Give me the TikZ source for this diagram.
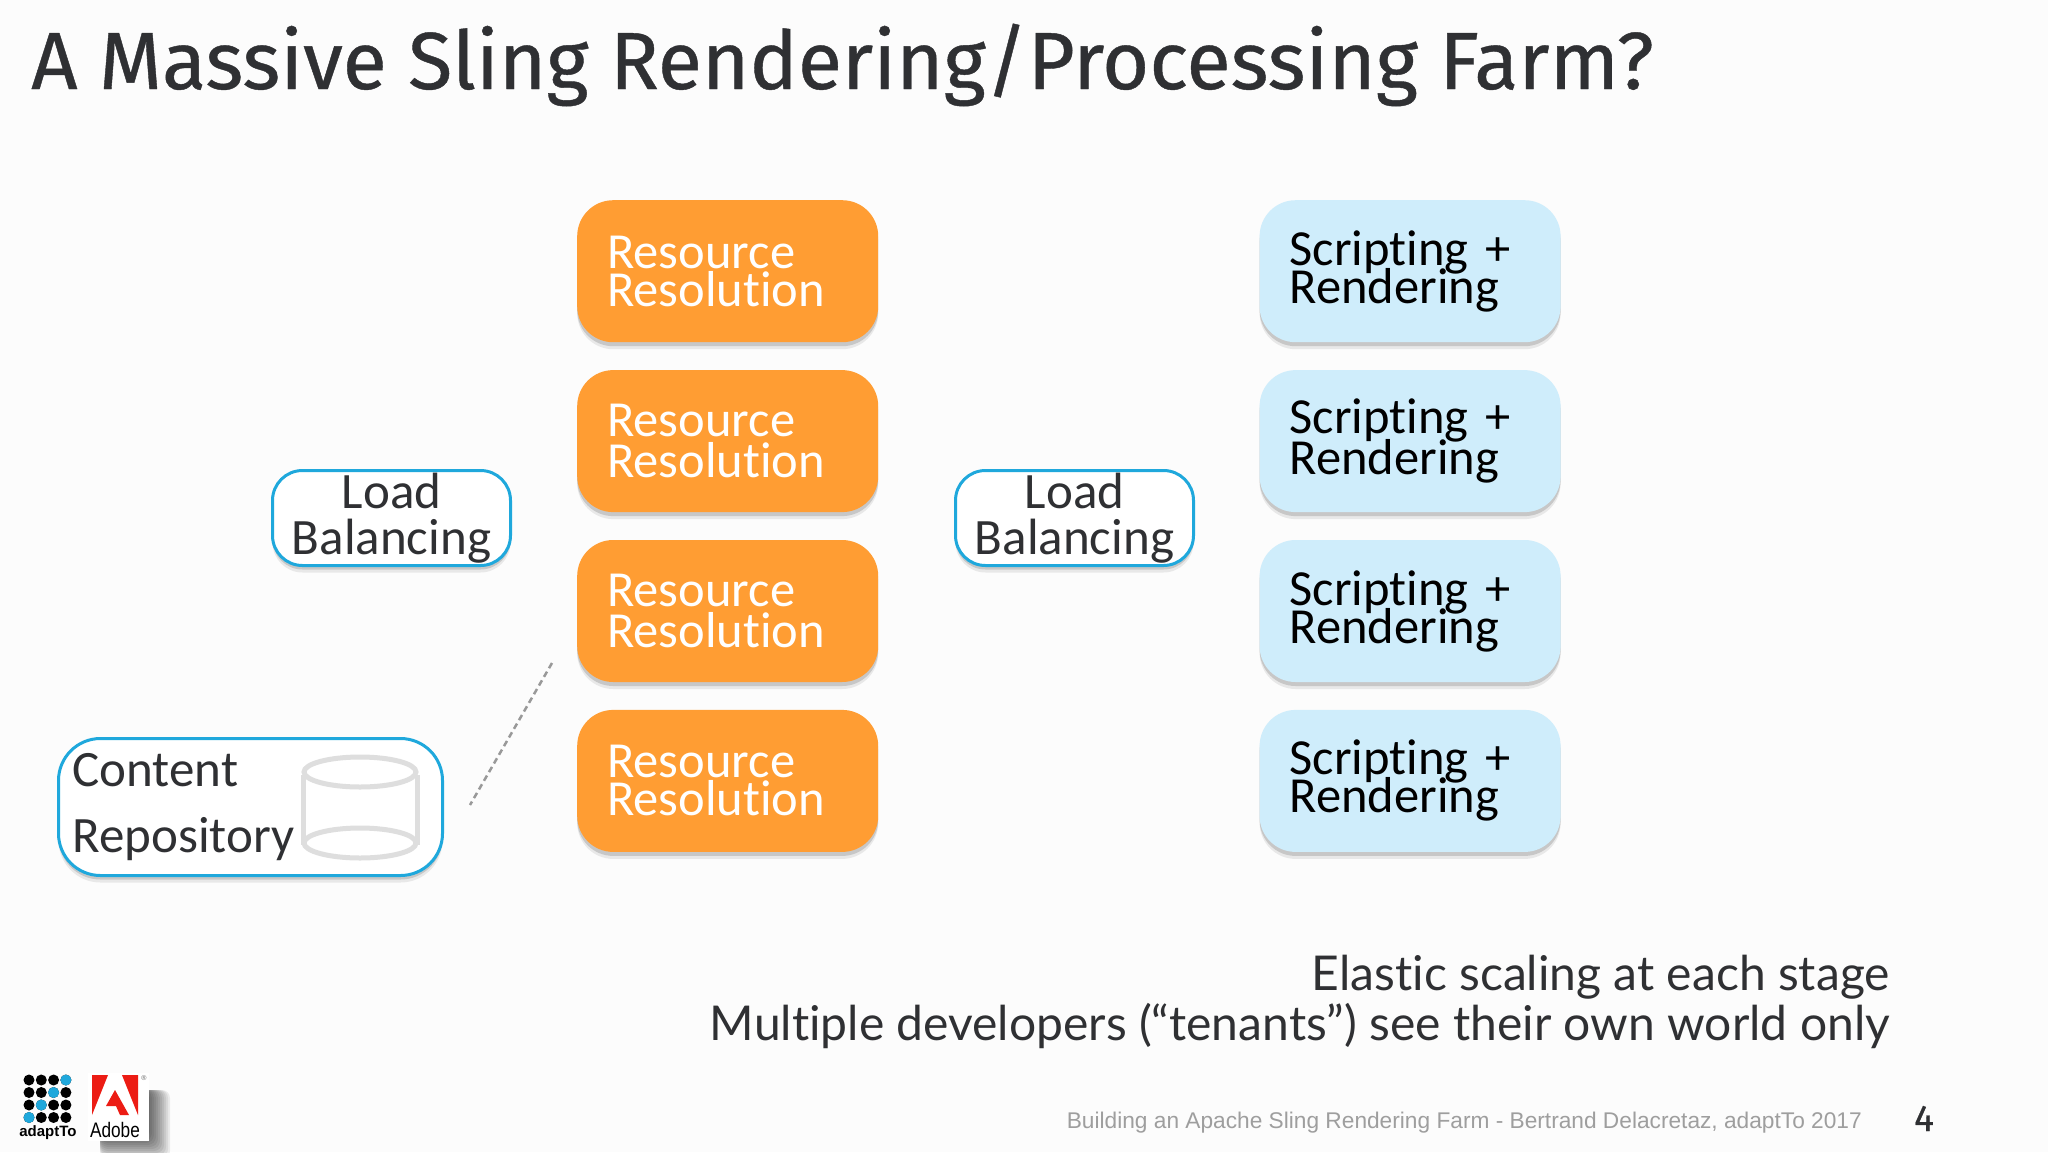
\documentclass[tikz,border=0pt]{standalone}
\usepackage{fontspec}
\usetikzlibrary{positioning,shadows,shapes.geometric}
\setmainfont[Ligatures=CommonOff]{Carlito}
\newfontfamily\titlefont[FakeBold=0.5]{Fira Sans}
\newfontfamily\notefont[Ligatures=CommonOff]{Lato}
\newfontfamily\footfont{Liberation Sans}
\definecolor{orangebox}{HTML}{FF9D33}
\definecolor{bluebox}{HTML}{CFEDFB}
\definecolor{blueline}{HTML}{1FA8DC}
\definecolor{inktext}{HTML}{2F3033}
\definecolor{adobered}{HTML}{EC1C14}
\newcommand{\tightlines}{\lineskiplimit=-100pt\relax}

\begin{document}
\begin{tikzpicture}[x=1pt,y=-1pt,node distance=27.5pt,
    soft shadow/.style={
        drop shadow={shadow xshift=0pt,shadow yshift=-7pt,opacity=.08,fill=black},
        drop shadow={shadow xshift=0pt,shadow yshift=-4pt,opacity=.14,fill=black}},
    stage node/.style={rounded corners=36pt,minimum width=301pt,minimum height=142pt,
        text width=241pt,align=left,inner sep=0pt,
        font=\fontsize{50.5}{38}\selectfont\tightlines,soft shadow},
    resolve node/.style={stage node,fill=orangebox,text=white},
    script node/.style={stage node,fill=bluebox,text=black},
    balance node/.style={rounded corners=30pt,draw=blueline,line width=3pt,fill=white,text=inktext,
        minimum width=238pt,minimum height=95pt,align=center,inner sep=0pt,
        font=\fontsize{51}{46}\selectfont\tightlines,soft shadow},
    repo ring/.style={draw=black!13,line width=5pt},
    adapt dot/.style={circle,inner sep=0pt,minimum size=11pt,fill=black}]

\useasboundingbox (0,0) rectangle (2048,1152);
\fill[black!1] (0,0) rectangle (2048,1152);

\node (Title) [anchor=base west,inner sep=0pt,text=inktext,font=\titlefont\fontsize{81}{90}\selectfont] at (31,89)
    {A Massive Sling Rendering/Processing Farm?};

% the two columns of boxes
\node (RR-1) [resolve node,anchor=north west] at (577,200) {Resource\\Resolution};
\node (RR-2) [resolve node,below=of RR-1] {Resource\\[3pt]Resolution};
\node (RR-3) [resolve node,below=of RR-2] {Resource\\[3pt]Resolution};
\node (RR-4) [resolve node,below=of RR-3] {Resource\\Resolution};
\node (SR-1) [script node,right=381pt of RR-1] {Scripting +\\Rendering};
\node (SR-2) [script node,below=of SR-1] {Scripting +\\[3pt]Rendering};
\node (SR-3) [script node,below=of SR-2] {Scripting +\\Rendering};
\node (SR-4) [script node,below=of SR-3] {Scripting +\\Rendering};

\node (LB-1) [balance node,anchor=north west] at (271,469) {Load\\Balancing};
\node (LB-2) [balance node,anchor=north west] at (954,469) {Load\\Balancing};

\node (Repo) [balance node,rounded corners=42pt,minimum width=384pt,minimum height=137pt,
    anchor=north west,text width=356pt,align=left,
    font=\fontsize{51}{66}\selectfont] at (57,737) {Content\\Repository};

% cylinder inside the repository box
\begin{scope}[repo ring]
  \draw (303,775) -- (303,845) (417,775) -- (417,845);
  \draw[fill=white] (360,772) ellipse (56pt and 15pt);
  \draw (360,843) ellipse (56pt and 15pt);
\end{scope}

\coordinate (Dash-a) at (552,663);
\coordinate (Dash-b) at (470,805);
\draw[black!40,line width=2.5pt,dash pattern=on 6pt off 4pt] (Dash-a) -- (Dash-b);

\node (Note) [anchor=base east,align=right,inner sep=0pt,text=inktext,
    font=\notefont\fontsize{48}{50}\selectfont] at (1890,1040)
    {Elastic scaling at each stage\\Multiple developers (“tenants”) see their own world only};

\node (Foot) [anchor=base east,inner sep=0pt,text=black!38,font=\footfont\fontsize{22.7}{28}\selectfont] at (1862,1128)
    {Building an Apache Sling Rendering Farm - Bertrand Delacretaz, adaptTo 2017};
\node (Page) [anchor=base,inner sep=0pt,text=inktext,font=\titlefont\fontsize{37}{40}\selectfont] at (1924,1131) {4};

% adaptTo logo
\foreach \col in {0,1,2,3}
  \foreach \row in {0,1,2,3}
    \node (Dot-\col-\row) [adapt dot] at (29+12.3*\col,1080+12.5*\row) {};
\foreach \col/\row in {3/0,2/1,1/2,0/3}
  \node (Blue-\col) [adapt dot,fill=blueline] at (29+12.3*\col,1080+12.5*\row) {};
\node (Adapt) [anchor=base,inner sep=0pt,font=\footfont\bfseries\fontsize{15}{16}\selectfont] at (48,1136) {adaptTo};

% Adobe logo
\foreach \d in {-4,-2,...,18}
  \fill[black,opacity=.07,rounded corners=8pt] (100,1090) rectangle (152+\d,1141+\d);
\fill[white] (88,1073) rectangle (149,1141);
\fill[adobered] (92,1075) -- (108,1075) -- (92,1115) -- cycle;
\fill[adobered] (122,1075) -- (138,1075) -- (138,1115) -- cycle;
\fill[adobered] (115,1090) -- (129,1115) -- (120,1115) -- (116,1106) -- (106,1106) -- cycle;
\node (Adobe) [anchor=base,inner sep=0pt,xscale=.82,font=\footfont\fontsize{21}{22}\selectfont] at (115,1137) {Adobe};
\node (Reg) [inner sep=0pt,text=black!60,font=\footfont\fontsize{7}{8}\selectfont] at (144,1078) {®};

\end{tikzpicture}
\end{document}
